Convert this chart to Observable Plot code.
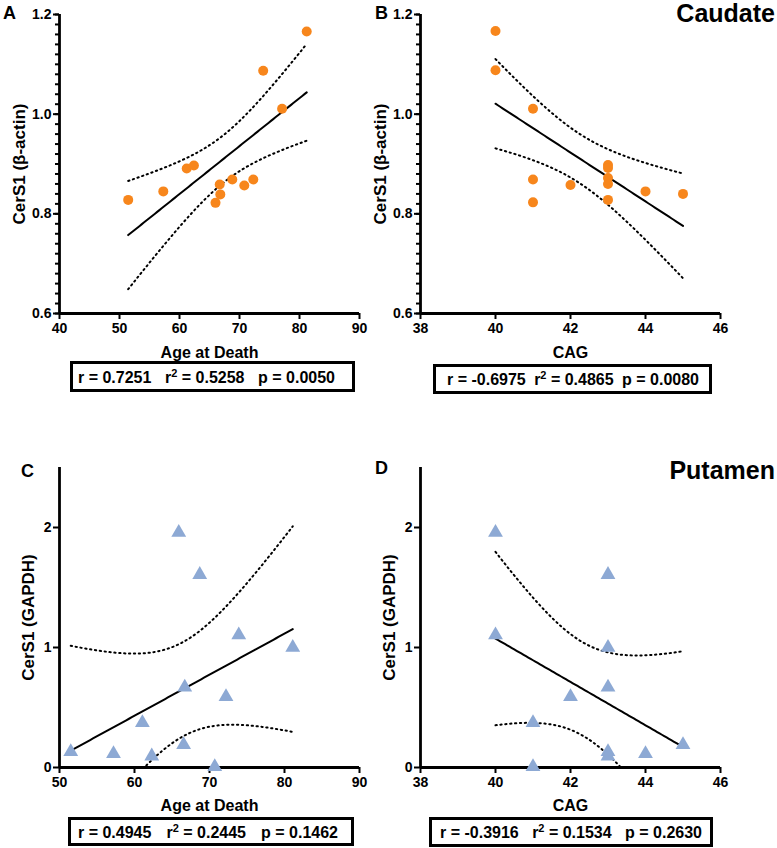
<!DOCTYPE html>
<html><head><meta charset="utf-8">
<script src="https://cdn.jsdelivr.net/npm/d3@7"></script>
<script src="https://cdn.jsdelivr.net/npm/@observablehq/plot@0.6"></script>
<style>
body{margin:0;background:#fff;}
#fig{position:relative;width:777px;height:848px;font-family:"Liberation Sans",Arial,sans-serif;font-weight:bold;color:#000;overflow:hidden;}
.panel{position:absolute;}
.panel svg{overflow:visible;}
.letter{position:absolute;font-size:18px;line-height:1;}
.title{position:absolute;font-size:25px;line-height:1.2;right:2px;}
.stats{position:absolute;border:3px solid #000;box-sizing:border-box;display:flex;justify-content:space-between;align-items:center;font-size:16px;line-height:1;padding-top:2px;}
.stats sup{font-size:11px;line-height:0;vertical-align:6px;}
</style></head><body><div id="fig"></div>
<script>
// ---- Data ----
// Caudate, CerS1 normalised to beta-actin
const caudateAge = [51.45, 57.3, 61.2, 62.4, 66.0, 66.7, 66.8, 68.8, 70.8, 72.3, 73.95, 77.1, 81.2];
const caudateAgeVal = [0.828, 0.845, 0.891, 0.897, 0.822, 0.859, 0.839, 0.869, 0.857, 0.869, 1.087, 1.011, 1.166];
const caudateCAG = [40, 40, 41, 41, 41, 42, 43, 43, 43, 43, 43, 44, 45];
const caudateCAGVal = [1.167, 1.088, 1.011, 0.869, 0.823, 0.858, 0.898, 0.892, 0.872, 0.860, 0.828, 0.845, 0.840];
// Putamen, CerS1 normalised to GAPDH
const putamenAge = [51.5, 57.2, 61.05, 62.3, 65.9, 66.55, 66.7, 68.7, 70.7, 72.2, 73.9, 81.1];
const putamenAgeVal = [0.131, 0.114, 0.373, 0.095, 1.958, 0.19, 0.668, 1.607, 0.006, 0.59, 1.104, 1.0];
const putamenCAG = [40, 40, 41, 41, 42, 43, 43, 43, 43, 43, 44, 45];
const putamenCAGVal = [1.958, 1.104, 0.373, 0.006, 0.59, 1.607, 1.0, 0.668, 0.131, 0.095, 0.114, 0.19];

// Axis ticks
const ageTicks = [40, 50, 60, 70, 80, 90];
const ageTicksC = [50, 60, 70, 80, 90];
const cagTicks = [38, 40, 42, 44, 46];
const caudateYTicks = [0.6, 0.8, 1.0, 1.2];
const caudateYMinor = d3.range(0, 31).map(i => 0.6 + i * 0.02);
const putamenYTicks = [0, 1, 2];

// Labels & stats text
const panelLetters = ["A", "B", "C", "D"];
const regionTitles = ["Caudate", "Putamen"];
const xLabels = ["Age at Death", "CAG", "Age at Death", "CAG"];
const yLabels = ["CerS1 (\u03b2-actin)", "CerS1 (\u03b2-actin)", "CerS1 (GAPDH)", "CerS1 (GAPDH)"];
const statR = ["0.7251", "-0.6975", "0.4945", "-0.3916"];
const statR2 = ["0.5258", "0.4865", "0.2445", "0.1534"];
const statP = ["0.0050", "0.0080", "0.1462", "0.2630"];

const T_CRIT = {10: 2.228, 11: 2.201};
const ORANGE = "#f7861c";
const BLUE = "#8da9d4";
const FONT = '"Liberation Sans", Arial, sans-serif';

function regress(xs, ys) {
  const n = xs.length, mx = d3.mean(xs), my = d3.mean(ys);
  const sxx = d3.sum(xs, x => (x - mx) ** 2);
  const sxy = d3.sum(xs.map((x, i) => (x - mx) * (ys[i] - my)));
  const b = sxy / sxx, a = my - b * mx;
  const sse = d3.sum(xs.map((x, i) => (ys[i] - a - b * x) ** 2));
  const s = Math.sqrt(sse / (n - 2)), t = T_CRIT[n - 2];
  const [x0, x1] = d3.extent(xs);
  return d3.range(0, 81).map(i => {
    const x = x0 + (x1 - x0) * i / 80;
    const yh = a + b * x, h = t * s * Math.sqrt(1 / n + (x - mx) ** 2 / sxx);
    return {x, y: yh, lo: yh - h, hi: yh + h};
  });
}

function makePanel(p) {
  const data = p.xs.map((x, i) => ({x, y: p.ys[i]}));
  const fit = regress(p.xs, p.ys);
  const marks = [];
  if (p.yMinor) marks.push(Plot.axisY({ticks: p.yMinor, tickSize: 4, strokeWidth: 2, tickFormat: () => "", label: null}));
  marks.push(
    Plot.axisY({ticks: p.yTicks, tickSize: 6, tickPadding: 2, strokeWidth: 2, tickFormat: p.yFormat, label: null, fontSize: 14, fontWeight: "bold"}),
    Plot.axisX({ticks: p.xTicks, tickSize: 6, tickPadding: 4, strokeWidth: 2, tickFormat: d3.format("d"), label: null, fontSize: 14, fontWeight: "bold"}),
    Plot.ruleX([p.xDomain[0]], {strokeWidth: 2.8}),
    Plot.ruleY([p.yDomain[0]], {strokeWidth: 2.8}),
    Plot.line(fit, {x: "x", y: "hi", strokeWidth: 2, strokeDasharray: "1.3 3.6", clip: true}),
    Plot.line(fit, {x: "x", y: "lo", strokeWidth: 2, strokeDasharray: "1.3 3.6", clip: true}),
    Plot.line(fit, {x: "x", y: "y", strokeWidth: 2}),
    Plot.dot(data, {x: "x", y: "y", r: p.r, symbol: p.symbol, fill: p.color, stroke: "none"}),
    Plot.text([p.xLabel], {text: d => d, frameAnchor: "bottom", dy: p.xLabelDy, lineAnchor: "middle", textAnchor: "middle", fontSize: 16, fontWeight: "bold"}),
    Plot.text([p.yLabel], {text: d => d, frameAnchor: "left", dx: -p.yLabelOff, rotate: -90, textAnchor: "middle", lineAnchor: "middle", fontSize: 17, fontWeight: "bold"})
  );
  return Plot.plot({
    width: 390, height: 360,
    marginLeft: 59, marginRight: 31, marginTop: 14, marginBottom: p.mb,
    x: {domain: p.xDomain},
    y: {domain: p.yDomain},
    style: {fontFamily: FONT, fontWeight: "bold", fontSize: "14px", color: "#000", background: "transparent", overflow: "visible"},
    marks
  });
}

const panels = [
  {left: 0, top: 0, xs: caudateAge, ys: caudateAgeVal, xDomain: [40, 90], xTicks: ageTicks, yDomain: [0.6, 1.2], yTicks: caudateYTicks, yMinor: caudateYMinor, yFormat: d3.format(".1f"), mb: 47, r: 5, symbol: "circle", color: ORANGE, yLabelOff: 40, xLabelDy: 39,
   stats: {left: 70, top: 361, width: 285, height: 31, pl: 5, pr: 17}},
  {left: 361, top: 0, xs: caudateCAG, ys: caudateCAGVal, xDomain: [38, 46], xTicks: cagTicks, yDomain: [0.6, 1.2], yTicks: caudateYTicks, yMinor: caudateYMinor, yFormat: d3.format(".1f"), mb: 47, r: 5, symbol: "circle", color: ORANGE, yLabelOff: 40, xLabelDy: 39,
   stats: {left: 433, top: 364, width: 279, height: 30, pl: 11, pr: 10}},
  {left: 0, top: 453, xs: putamenAge, ys: putamenAgeVal, xDomain: [50, 90], xTicks: ageTicksC, yDomain: [0, 2.5], yTicks: putamenYTicks, yMinor: null, yFormat: d3.format("d"), mb: 46, r: 5.5, symbol: "triangle", color: BLUE, yLabelOff: 31, xLabelDy: 38,
   stats: {left: 68, top: 817, width: 286, height: 29, pl: 7, pr: 13}},
  {left: 361, top: 453, xs: putamenCAG, ys: putamenCAGVal, xDomain: [38, 46], xTicks: cagTicks, yDomain: [0, 2.5], yTicks: putamenYTicks, yMinor: null, yFormat: d3.format("d"), mb: 46, r: 5.5, symbol: "triangle", color: BLUE, yLabelOff: 31, xLabelDy: 38,
   stats: {left: 429, top: 817, width: 284, height: 30, pl: 8, pr: 8}}
];

const fig = document.getElementById("fig");
panels.forEach((p, i) => {
  p.xLabel = xLabels[i];
  p.yLabel = yLabels[i];
  const wrap = document.createElement("div");
  wrap.className = "panel";
  wrap.style.left = p.left + "px";
  wrap.style.top = p.top + "px";
  wrap.appendChild(makePanel(p));
  fig.appendChild(wrap);

  const box = document.createElement("div");
  box.className = "stats";
  Object.assign(box.style, {left: p.stats.left + "px", top: p.stats.top + "px", width: p.stats.width + "px", height: p.stats.height + "px", paddingLeft: p.stats.pl + "px", paddingRight: p.stats.pr + "px"});
  box.innerHTML = `<span>r = ${statR[i]}</span><span>r<sup>2</sup> = ${statR2[i]}</span><span>p = ${statP[i]}</span>`;
  fig.appendChild(box);
});

const letterPos = [[3, 4], [375, 4], [21, 462], [375, 459]];
panelLetters.forEach((L, i) => {
  const d = document.createElement("div");
  d.className = "letter";
  d.textContent = L;
  d.style.left = letterPos[i][0] + "px";
  d.style.top = letterPos[i][1] + "px";
  fig.appendChild(d);
});
const titleTops = [-2, 455];
regionTitles.forEach((t, i) => {
  const d = document.createElement("div");
  d.className = "title";
  d.textContent = t;
  d.style.top = titleTops[i] + "px";
  fig.appendChild(d);
});
</script>
</body></html>
